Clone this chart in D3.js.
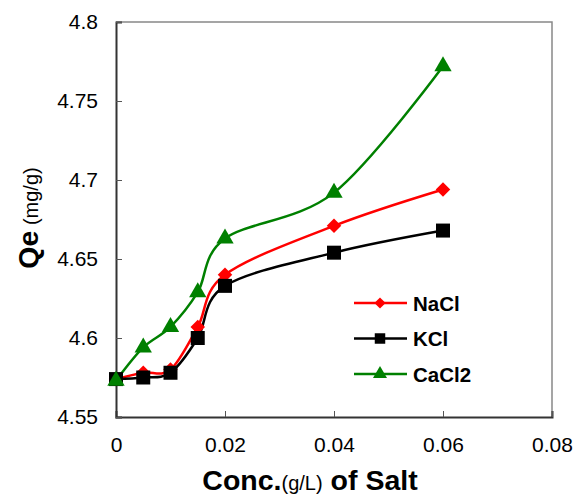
<!DOCTYPE html>
<html>
<head>
<meta charset="utf-8">
<script src="https://cdn.jsdelivr.net/npm/d3@7"></script>
<style>
  body { margin: 0; background: #fff; }
  svg { display: block; font-family: "Liberation Sans", Arial, sans-serif; }
</style>
</head>
<body>
<div id="chart"></div>
<script>
// Salt concentration (g/L) on x, Qe (mg/g) on y
const conc   = [0, 0.005, 0.01, 0.015, 0.02, 0.04, 0.06];
const nacl   = [4.574, 4.578, 4.580, 4.607, 4.640, 4.671, 4.694];
const kcl    = [4.574, 4.575, 4.578, 4.600, 4.633, 4.654, 4.668];
const cacl2  = [4.573, 4.594, 4.607, 4.629, 4.663, 4.692, 4.772];
const xTicks = [0, 0.02, 0.04, 0.06, 0.08];
const yTicks = [4.55, 4.6, 4.65, 4.7, 4.75, 4.8];

const series = [
  { name: 'NaCl',  vals: nacl,  color: '#ff0000', shape: d3.symbolDiamond2, size: 135, lsize: 80 },
  { name: 'KCl',   vals: kcl,   color: '#000000', shape: d3.symbolSquare,   size: 196, lsize: 110 },
  { name: 'CaCl2', vals: cacl2, color: '#008000', shape: d3.symbolTriangle, size: 130, lsize: 85 },
];

const W = 573, H = 498;
const m = { left: 116, top: 22, right: 21, bottom: 81 };

const svg = d3.select('#chart').append('svg')
  .attr('width', W).attr('height', H);

const x = d3.scaleLinear().domain([0, 0.08]).range([m.left, W - m.right]);
const y = d3.scaleLinear().domain([4.55, 4.8]).range([H - m.bottom, m.top]);

// plot frame (top/right lighter)
svg.append('path')
  .attr('d', `M${x(0)},${y(4.8)}H${x(0.08)}V${y(4.55)}`)
  .attr('fill', 'none').attr('stroke', '#888').attr('stroke-width', 1.5);

// axes
const xAxis = d3.axisBottom(x).tickValues(xTicks).tickSize(-6).tickPadding(20)
  .tickFormat(d => d === 0 ? '0' : d3.format('.2f')(d));
const gx = svg.append('g').attr('transform', `translate(0,${y(4.55)})`).call(xAxis);
gx.select('.domain').attr('stroke', '#333').attr('stroke-width', 2);
gx.selectAll('.tick line').attr('stroke', '#555');
gx.selectAll('text').attr('font-size', 21).attr('fill', '#000');

const yAxis = d3.axisLeft(y).tickValues(yTicks).tickSize(-6).tickPadding(18)
  .tickFormat(d => String(+d.toFixed(2)));
const gy = svg.append('g').attr('transform', `translate(${x(0)},0)`).call(yAxis);
gy.select('.domain').attr('stroke', '#333').attr('stroke-width', 2);
gy.selectAll('.tick line').attr('stroke', '#555');
gy.selectAll('text').attr('font-size', 21).attr('fill', '#000');

// smoothed lines (Excel-like)
const line = d3.line()
  .x((d, i) => x(conc[i]))
  .y(d => y(d))
  .curve(d3.curveCatmullRom.alpha(0));

series.forEach(s => {
  svg.append('path')
    .attr('d', line(s.vals))
    .attr('fill', 'none')
    .attr('stroke', s.color)
    .attr('stroke-width', 2.5);
});

series.forEach(s => {
  const sym = d3.symbol().type(s.shape).size(s.size);
  svg.append('g').selectAll('path')
    .data(s.vals)
    .join('path')
    .attr('d', sym)
    .attr('transform', (d, i) => `translate(${x(conc[i])},${y(d)})`)
    .attr('fill', s.color);
});

// legend
const lg = svg.append('g');
series.forEach((s, i) => {
  const ly = 303 + i * 35.5;
  lg.append('line').attr('x1', 354).attr('x2', 407).attr('y1', ly).attr('y2', ly)
    .attr('stroke', s.color).attr('stroke-width', 2.5);
  lg.append('path')
    .attr('d', d3.symbol().type(s.shape).size(s.lsize)())
    .attr('transform', `translate(380,${ly})`)
    .attr('fill', s.color);
  lg.append('text').attr('x', 413).attr('y', ly + 7.5)
    .attr('font-size', 20.5).attr('font-weight', 'bold').text(s.name);
});

// x title
const xt = svg.append('text').attr('x', 310).attr('y', 490).attr('text-anchor', 'middle')
  .attr('font-weight', 'bold');
xt.append('tspan').attr('font-size', 28.5).text('Conc.');
xt.append('tspan').attr('font-size', 20).attr('font-weight', 'normal').text('(g/L)');
xt.append('tspan').attr('font-size', 28.5).text(' of Salt');

// y title
const yt = svg.append('text')
  .attr('transform', 'translate(38,218) rotate(-90)')
  .attr('text-anchor', 'middle');
yt.append('tspan').attr('font-size', 28.5).attr('font-weight', 'bold').text('Qe');
yt.append('tspan').attr('font-size', 20).text(' (mg/g)');
</script>
</body>
</html>
